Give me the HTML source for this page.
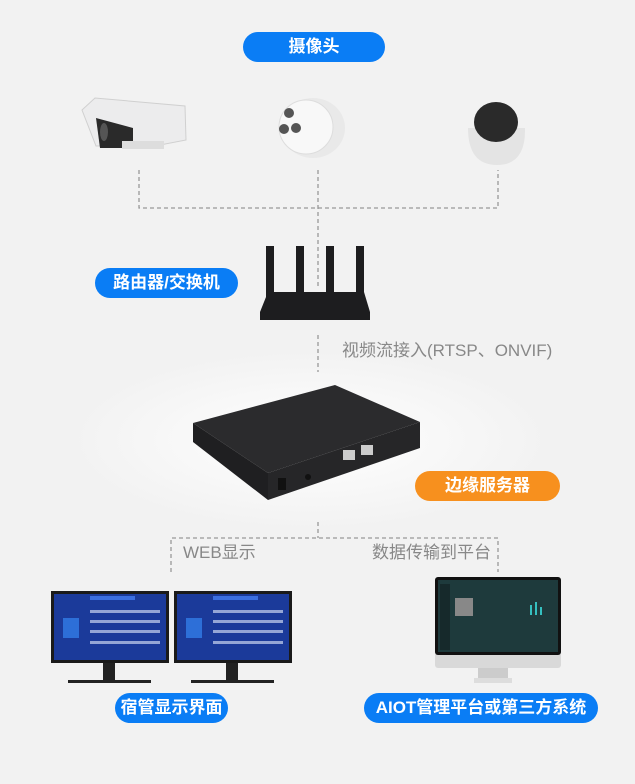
<!DOCTYPE html>
<html><head><meta charset="utf-8"><style>
body{margin:0;width:635px;height:784px;background:#f2f2f2;position:relative;overflow:hidden;font-family:"Liberation Sans","Noto Sans CJK SC",sans-serif}
.pill{position:absolute;border-radius:16px;color:#fff;font-weight:bold;font-size:17px;text-align:center;line-height:30px;height:30px}
.b{background:#0a7df5}.o{background:#f7901e}
.t{position:absolute;color:#888;font-size:17px;line-height:18px}
svg{position:absolute;left:0;top:0}
</style></head><body>
<svg width="635" height="784">
<defs><radialGradient id="g" cx="50%" cy="50%" r="50%"><stop offset="0" stop-color="#fff"/><stop offset="1" stop-color="#f2f2f2"/></radialGradient></defs>
<ellipse cx="310" cy="440" rx="240" ry="90" fill="url(#g)"/>
<g stroke="#999" stroke-width="1.3" stroke-dasharray="4,3" fill="none">
<path d="M139 170V208H498V170M318 170V286M318 335V372M318 522V538M171 572V538H498V572"/>
</g>
<!-- bullet camera -->
<path d="M82 110 L95 98 L185 106 L186 140 L160 145 L96 146 Z" fill="#ececed" stroke="#d0d0d0"/>
<path d="M96 118 L133 128 L133 148 L100 148 Z" fill="#2a2a2a"/>
<ellipse cx="104" cy="132" rx="4" ry="9" fill="#555"/>
<rect x="122" y="141" width="42" height="8" fill="#ddd"/>
<!-- dome camera -->
<ellipse cx="313" cy="128" rx="32" ry="30" fill="#e9e9e9"/>
<ellipse cx="306" cy="127" rx="27" ry="27" fill="#f8f8f8" stroke="#ddd"/>
<circle cx="289" cy="113" r="5" fill="#555"/><circle cx="284" cy="129" r="5" fill="#555"/><circle cx="296" cy="128" r="5" fill="#555"/>
<!-- PTZ -->
<path d="M468 128 Q468 165 497 165 Q526 165 525 128 Z" fill="#e4e4e4"/>
<ellipse cx="496" cy="122" rx="22" ry="20" fill="#2a2a2a"/>
<!-- router -->
<g fill="#1d1d1f"><rect x="266" y="246" width="8" height="52"/><rect x="296" y="246" width="8" height="52"/><rect x="326" y="246" width="8" height="52"/><rect x="356" y="246" width="8" height="52"/>
<path d="M268 292 L364 292 L370 312 L370 320 L260 320 L260 312 Z"/></g>
<!-- server -->
<path d="M193 423 L335 385 L420 422 L268 473 Z" fill="#2b2b2d"/>
<path d="M193 423 L268 473 L268 500 L193 442 Z" fill="#1f1f21"/>
<path d="M268 473 L420 422 L420 448 L268 500 Z" fill="#262628"/>
<rect x="343" y="450" width="12" height="10" fill="#ccc"/><rect x="361" y="445" width="12" height="10" fill="#ccc"/>
<rect x="278" y="478" width="8" height="12" fill="#111"/><circle cx="308" cy="477" r="3" fill="#111"/>
<!-- monitors -->
<g><rect x="51" y="591" width="118" height="72" fill="#1a1a1a"/><rect x="54" y="594" width="112" height="66" fill="#1b3a9a"/>
<rect x="90" y="596" width="45" height="4" fill="#3b6ee0"/>
<g fill="#c9d4f0" opacity=".7"><rect x="90" y="610" width="70" height="3"/><rect x="90" y="620" width="70" height="3"/><rect x="90" y="630" width="70" height="3"/><rect x="90" y="641" width="70" height="3"/></g>
<rect x="63" y="618" width="16" height="20" fill="#2d6fd8"/>
<rect x="103" y="663" width="12" height="19" fill="#222"/><rect x="68" y="680" width="83" height="3" fill="#222"/>
<rect x="174" y="591" width="118" height="72" fill="#1a1a1a"/><rect x="177" y="594" width="112" height="66" fill="#1b3a9a"/>
<rect x="213" y="596" width="45" height="4" fill="#3b6ee0"/>
<g fill="#c9d4f0" opacity=".7"><rect x="213" y="610" width="70" height="3"/><rect x="213" y="620" width="70" height="3"/><rect x="213" y="630" width="70" height="3"/><rect x="213" y="641" width="70" height="3"/></g>
<rect x="186" y="618" width="16" height="20" fill="#2d6fd8"/>
<rect x="226" y="663" width="12" height="19" fill="#222"/><rect x="191" y="680" width="83" height="3" fill="#222"/></g>
<g><rect x="435" y="577" width="126" height="91" rx="3" fill="#d9d9d9"/><rect x="435" y="577" width="126" height="78" rx="3" fill="#111"/>
<rect x="438" y="580" width="120" height="72" fill="#1e3a3c"/>
<rect x="440" y="584" width="10" height="66" fill="#16292b"/>
<rect x="455" y="598" width="18" height="18" fill="#888"/>
<g fill="#35c0c0"><rect x="530" y="605" width="2" height="10"/><rect x="535" y="602" width="2" height="13"/><rect x="540" y="607" width="2" height="8"/></g>
<rect x="478" y="668" width="30" height="10" fill="#ccc"/><rect x="474" y="678" width="38" height="5" fill="#ddd"/></g>
</svg>
<div class="pill b" style="left:243px;top:32px;width:142px">摄像头</div>
<div class="pill b" style="left:95px;top:268px;width:143px">路由器/交换机</div>
<div class="pill o" style="left:415px;top:471px;width:145px">边缘服务器</div>
<div class="pill b" style="left:115px;top:693px;width:113px">宿管显示界面</div>
<div class="pill b" style="left:364px;top:693px;width:234px">AIOT管理平台或第三方系统</div>
<div class="t" style="left:342px;top:342px">视频流接入(RTSP、ONVIF)</div>
<div class="t" style="left:183px;top:544px">WEB显示</div>
<div class="t" style="left:372px;top:544px">数据传输到平台</div>
</body></html>
